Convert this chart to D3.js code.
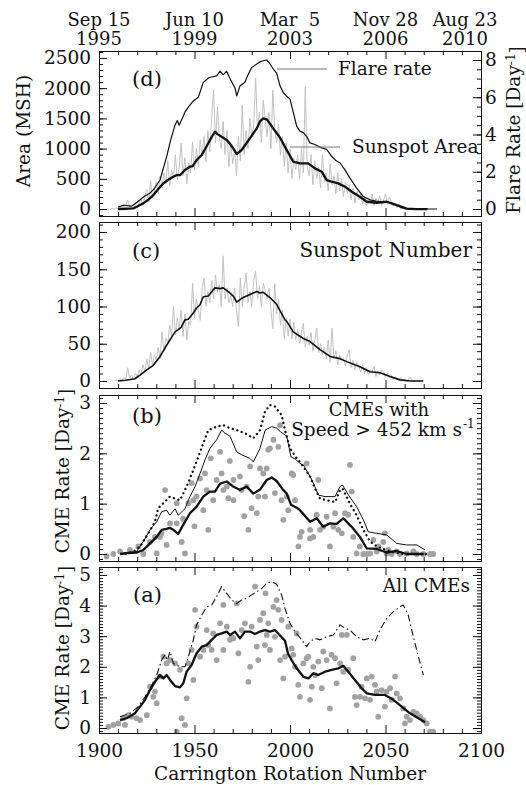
<!DOCTYPE html>
<html lang="en">
<head>
<meta charset="UTF-8">
<title>Cycle 23: sunspots, flares and CMEs</title>
<script src="https://cdn.jsdelivr.net/npm/d3@7/dist/d3.min.js"></script>
<style>
  body { margin: 0; background: #fff; }
  text { font-family: "DejaVu Serif", serif; font-size: 18.5px; fill: #111; }
</style>
</head>
<body>
<div id="chart"></div>
<script>
// ---------- data ----------
const crTicks = [1900, 1950, 2000, 2050, 2100];
const dateDay = ["Sep 15", "Jun 10", "Mar  5", "Nov 28", "Aug 23"];
const dateYear = ["1995", "1999", "2003", "2006", "2010"];

// (d) sunspot area, one value per rotation from CR 1905
const areaRawStart = 1905;
const areaRaw = [
  0, 0, 10, 0, 20, 0, 30, 10, 40, 60,
  150, 40, 30, 20, 60, 20, 90, 150, 60, 200,
  320, 120, 470, 180, 300, 450, 250, 550, 350, 600,
  420, 800, 380, 650, 520, 900, 480, 700, 1090, 550,
  850, 420, 760, 600, 1110, 650, 1000, 700, 1150, 880,
  1200, 780, 1300, 950, 1500, 1970, 1100, 1690, 1200, 1000,
  1450, 900, 1300, 700, 1100, 750, 1000, 550, 1200, 800,
  1720, 900, 1300, 1000, 1500, 1200, 1400, 2170, 1300, 1600,
  1100, 1800, 1500, 1200, 1600, 1000, 1970, 1300, 1100, 1400,
  900, 1200, 700, 1100, 600, 1000, 500, 850, 650, 900,
  500, 1000, 600, 2025, 700, 550, 900, 400, 800, 500,
  700, 350, 900, 450, 600, 300, 750, 400, 550, 250,
  600, 300, 500, 200, 450, 250, 400, 150, 350, 100,
  300, 150, 250, 80, 200, 50, 150, 100, 250, 60,
  180, 100, 220, 60, 150, 250, 80, 200, 120, 50,
  100, 20, 80, 0, 30, 0, 10, 0, 0, 0,
  0, 0, 0, 0
];
const areaSmooth = [
  [1910, 0], [1914, 5], [1918, 10], [1920.5, 50], [1923.2, 95], [1926, 160], [1928.4, 230],
  [1931, 330], [1933.7, 425], [1936, 480], [1938.9, 535], [1940.5, 560], [1942.4, 560],
  [1945, 645], [1947.6, 700], [1949, 710], [1951.1, 810], [1953.8, 895], [1955.5, 990],
  [1957.2, 1088], [1959, 1190], [1960.7, 1280], [1962, 1240], [1964.2, 1197], [1966.9, 1142],
  [1968.5, 1080], [1970.3, 1005], [1972.1, 910], [1974.7, 977], [1977, 1080], [1979, 1170],
  [1982.6, 1336], [1984.3, 1450], [1986, 1500], [1988, 1480], [1991.3, 1330], [1994.8, 1180],
  [1998.3, 975], [2001.7, 783], [2005.2, 756], [2009.5, 756], [2013.1, 673], [2016.6, 618],
  [2019.2, 480], [2021.8, 452], [2025.3, 425], [2028.8, 370], [2032.3, 286], [2036.6, 204],
  [2040.2, 121], [2045.4, 104], [2050.6, 121], [2055.9, 66], [2061.1, 8], [2066, 0], [2072, 0]
];
const flareRate = [
  [1910, 0.1], [1913, 0.2], [1917, 0.15], [1919, 0.3], [1921.5, 0.5], [1924, 0.7], [1926.7, 0.85],
  [1929, 1.1], [1932, 1.57], [1934, 2.3], [1935.4, 2.8], [1937.5, 3.7], [1939.8, 4.5], [1941, 4.75],
  [1942, 4.5], [1945, 5.2], [1947, 5.5], [1949.4, 5.8], [1952, 6.0], [1954.6, 6.8], [1957.7, 7.06],
  [1961.6, 7.15], [1963.4, 7.4], [1965, 7.2], [1966.8, 7.4], [1968.6, 7.0], [1971.2, 6.5],
  [1972.1, 6.07], [1973.8, 6.6], [1976.4, 6.8], [1978, 7.2], [1979.9, 7.6], [1982.6, 7.78],
  [1984.3, 7.9], [1986, 7.96], [1987.8, 8.0], [1989.5, 7.8], [1991.3, 7.5], [1993, 7.3],
  [1994.8, 6.6], [1996.5, 6.25], [1998.3, 6.05], [2000, 5.9], [2001.7, 5.2], [2003.5, 4.45],
  [2005.2, 4.18], [2007, 4.1], [2008.7, 3.9], [2010.5, 3.55], [2013, 3.46], [2016.6, 3.28],
  [2019.2, 3.2], [2021.8, 2.83], [2024, 2.6], [2026.2, 2.47], [2028.8, 2.1], [2031.4, 1.66],
  [2034.9, 1.12], [2038.4, 0.67], [2041.9, 0.49], [2045, 0.42], [2048.9, 0.38], [2052, 0.35],
  [2054, 0.3], [2057, 0.15], [2059.3, 0.04], [2062, 0], [2077, 0]
];

// (c) sunspot number, one value per rotation from CR 1908
const ssnRawStart = 1908;
const ssnRaw = [
  0, 2, 0, 3, 1, 5, 2, 18, 4, 8,
  2, 10, 6, 14, 8, 22, 12, 30, 15, 39,
  22, 35, 28, 45, 30, 66, 40, 58, 50, 75,
  60, 100, 62, 85, 70, 95, 60, 90, 55, 80,
  75, 131, 85, 110, 95, 81, 125, 138, 100, 120,
  105, 135, 110, 142, 120, 130, 100, 168, 110, 125,
  105, 115, 100, 125, 95, 73, 138, 100, 125, 145,
  105, 120, 100, 135, 147, 110, 128, 100, 131, 122,
  110, 125, 95, 70, 131, 90, 110, 75, 95, 57,
  85, 60, 83, 56, 79, 55, 70, 50, 65, 77,
  45, 60, 48, 65, 40, 55, 71, 38, 50, 35,
  45, 30, 55, 25, 71, 30, 40, 22, 35, 28,
  30, 20, 35, 42, 18, 28, 15, 25, 20, 12,
  22, 10, 18, 8, 15, 12, 20, 6, 14, 8,
  15, 12, 5, 10, 4, 8, 2, 6, 3, 1,
  5, 0, 3, 0, 2, 5, 0, 0, 0
];
const ssnSmooth = [
  [1910, 0], [1914, 1], [1918.8, 3], [1921.5, 8], [1925, 15], [1928.4, 21], [1932, 33],
  [1935.4, 48], [1939.8, 66], [1941.5, 69], [1943, 72], [1945, 82], [1946.7, 83], [1949, 90],
  [1951.1, 98], [1952.8, 102], [1954.6, 113], [1957.2, 114], [1960.7, 125], [1963.4, 124],
  [1965, 125], [1967.7, 120], [1970.3, 114], [1972.1, 106], [1974.7, 111], [1979, 116],
  [1982.6, 120], [1984.3, 118], [1986, 119], [1989.5, 112], [1993, 103], [1997.4, 82],
  [1998.3, 80], [2001.7, 66], [2007, 57], [2010.5, 53], [2015.7, 42], [2021, 33], [2026.2, 30],
  [2029.7, 26], [2036.6, 19], [2041.9, 12.5], [2047.1, 11], [2052.4, 6], [2057.6, 1.5],
  [2062.8, 0], [2069.8, 0]
];

// (b) CMEs with speed > 452 km/s
const fastRate = [
  [1904, -0.05], [1907.5, 0], [1911, 0.05], [1916.2, 0.08], [1920.6, 0.15], [1923.2, 0],
  [1926.7, 0.24], [1929.3, 0.34], [1930.2, 0.01], [1931.9, 0.34], [1932.8, 0.41], [1934.6, 1.27],
  [1935.4, 0.18], [1937.2, 0.61], [1940.7, 0.61], [1940.7, 1.01], [1943.3, 0.24], [1944, 0.7],
  [1945, 0.01], [1946.8, 1.01], [1948.5, 1.41], [1949.4, 1.07], [1950, 0.55], [1951.1, 1.14],
  [1952.9, 1.5], [1954.6, 0.87], [1955.5, 1.6], [1956.4, 1.27], [1957.2, 0.48], [1958.5, 1.9],
  [1959.8, 1.07], [1961.6, 1.47], [1963.4, 2.03], [1964.2, 1.6], [1965.1, 1.27], [1966.9, 1.34],
  [1967.7, 1.11], [1968.5, 1.85], [1970.4, 1.07], [1970.4, 1.47], [1973.8, 1.54], [1974.7, 1.27],
  [1976, 0.75], [1977.3, 1.34], [1978.2, 0.48], [1979.1, 1.74], [1979.9, 0.91], [1982.6, 0.81],
  [1983.4, 1.14], [1984.3, 1.7], [1986, 1.6], [1986.9, 1.14], [1987.8, 1.7], [1988.6, 2.07],
  [1989.5, 2.1], [1991.3, 2.27], [1992.1, 1.21], [1993.9, 2.13], [1994.8, 2.56], [1995.6, 1.07],
  [1996.5, 0.68], [1998.3, 1.14], [1999.1, 0.87], [2000.9, 1.6], [2001.7, 1.57], [2002.6, 1.07],
  [2004.4, 0.15], [2005.2, 0.34], [2006.1, 0.44], [2008.7, 1.8], [2010.5, 0.48], [2010.5, 0.31],
  [2012.2, 0.34], [2014, 0.78], [2014.8, 1.47], [2015.7, 0.48], [2017.4, 0.54], [2019.2, 0.74],
  [2020.9, 0.15], [2022.7, 0.54], [2023.6, 0.81], [2025.3, 0.48], [2027.1, 0.41], [2028.8, 0.81],
  [2030.5, 0.78], [2031.4, 1.77], [2032.3, 1.24], [2033.1, 0.34], [2034.9, 0.01], [2036.6, 0.15],
  [2038.4, 0], [2040.2, 0], [2041.9, 0.01], [2043.6, 0.28], [2045.4, 0.05], [2046.2, 0.15],
  [2048.8, 0.24], [2049.7, 0.41], [2050.6, 0.01], [2051.5, 0.08], [2053.2, 0], [2055.9, 0.05],
  [2057.6, 0], [2061.1, 0.01], [2064.6, 0.05], [2066.3, 0], [2069.8, 0], [2073.3, 0], [2075, 0]
];
const fastThick = [
  [1911, 0], [1915, 0.02], [1919.7, 0.03], [1923.2, 0.08], [1926.7, 0.21], [1930.2, 0.34],
  [1932.8, 0.48], [1935.4, 0.5], [1937, 0.52], [1938.9, 0.48], [1941.5, 0.4], [1944.1, 0.58],
  [1947.6, 0.81], [1951.1, 0.94], [1954.6, 1.14], [1958.1, 1.24], [1960.7, 1.24], [1963.4, 1.4],
  [1966.9, 1.44], [1970.3, 1.34], [1973.8, 1.27], [1977.3, 1.34], [1980.8, 1.2], [1984.3, 1.28],
  [1987.8, 1.47], [1990.4, 1.52], [1993, 1.45], [1996.5, 1.27], [1998.3, 1.2], [2000.5, 0.98],
  [2003.5, 0.92], [2005.2, 0.87], [2008, 0.75], [2010.5, 0.64], [2014, 0.71], [2017.4, 0.54],
  [2020.9, 0.61], [2024.4, 0.6], [2027.9, 0.71], [2032.3, 0.54], [2036.6, 0.34], [2040.2, 0.11],
  [2045.4, 0.1], [2050.6, 0.03], [2055.9, 0.06], [2061.1, 0], [2070, 0]
];
const fastThin = [
  [1911, 0], [1919.7, 0.05], [1923.2, 0.25], [1926.7, 0.48], [1930.2, 0.64], [1932.8, 0.84],
  [1935.4, 0.87], [1937.1, 0.77], [1939.8, 0.9], [1941.5, 0.77], [1945, 0.9], [1947.6, 1.14],
  [1950.3, 1.34], [1952.9, 1.6], [1955.5, 1.87], [1958.1, 2.1], [1961.6, 2.27], [1964.2, 2.46],
  [1966, 2.4], [1968.6, 2.34], [1972.1, 2.03], [1974.7, 1.97], [1979, 1.9], [1980.8, 1.83],
  [1984.3, 2.1], [1987, 2.46], [1990.4, 2.53], [1993, 2.5], [1995, 2.43], [1998.3, 2.34],
  [2000.5, 1.93], [2003, 1.88], [2005.2, 1.8], [2007, 1.77], [2010.5, 1.54], [2013, 1.34],
  [2014.9, 1.17], [2018.3, 1.14], [2023.6, 1.14], [2026.2, 1.34], [2027.5, 1.37], [2030.6, 1.17],
  [2034.9, 0.94], [2038.4, 0.68], [2041, 0.44], [2045.4, 0.41], [2050.6, 0.38], [2055.9, 0.21],
  [2061.1, 0.18], [2066.4, 0.18], [2070.7, 0.08]
];
const fastDotted = [
  [1914, 0], [1918, 0.05], [1921.5, 0.15], [1925.8, 0.41], [1929.3, 0.64], [1931, 0.91],
  [1933.7, 1.01], [1937.1, 1.14], [1939.8, 1.1], [1942.4, 1.07], [1945.9, 1.34], [1949.4, 1.67],
  [1952, 1.93], [1954.6, 2.2], [1957.2, 2.46], [1961.6, 2.53], [1965, 2.56], [1968.6, 2.5],
  [1972.1, 2.46], [1976.4, 2.4], [1980.8, 2.3], [1984.3, 2.46], [1986.9, 2.83], [1989.5, 2.96],
  [1992.1, 2.93], [1995.6, 2.76], [1997.4, 2.46], [2000, 2.1], [2003.5, 1.9], [2005.2, 1.83],
  [2010.5, 1.54], [2013.5, 1.27], [2015.7, 1.1], [2019.2, 1.07], [2023.6, 1.03], [2026.2, 1.27],
  [2027.5, 1.3], [2031.4, 1.0], [2034.9, 0.77], [2038.4, 0.48], [2041.9, 0.25], [2045.4, 0.15],
  [2052.4, 0.05], [2059.3, 0], [2073, 0]
];

// (a) all CMEs
const allRate = [
  [1904.9, 0.04], [1907.5, 0.1], [1910.1, 0.15], [1912.7, 0.32], [1913.6, 0.1], [1915.3, 0.42],
  [1917.1, 0.37], [1919.7, 0.32], [1921.5, 0.26], [1925, 0.42], [1926.7, 1.35], [1928.4, 1.02],
  [1929.3, 1.19], [1930.2, 0.81], [1931.9, 1.68], [1933.7, 2.33], [1935.4, 2.11], [1937.2, 2.22],
  [1939.8, 2.11], [1940.7, -0.12], [1942.4, 1.9], [1943.3, 0.32], [1945, 0.1], [1945.9, 0.97],
  [1946.8, 2.11], [1948.5, 2.55], [1949.4, 1.57], [1950.3, 3.86], [1951.1, 3.31], [1952.9, 2.33],
  [1954.6, 2.55], [1956.4, 3.2], [1957.2, 2.71], [1959, 2.55], [1959.8, 3.09], [1961.6, 2.22],
  [1963.4, 3.42], [1965.1, 4.02], [1965.1, 2.55], [1966.9, 3.31], [1968.6, 2.88], [1969.5, 2.98],
  [1970.4, 2.93], [1972.1, 4.07], [1973, 2.44], [1974.7, 3.2], [1976.4, 3.42], [1978.2, 1.51],
  [1979.1, 2.0], [1979.9, 3.31], [1981.7, 4.62], [1982.6, 2.66], [1983.4, 2.22], [1984.3, 3.53],
  [1986, 3.75], [1986.9, 2.71], [1987.2, 4.4], [1987.8, 3.04], [1988.6, 3.42], [1989.5, 2.55],
  [1991.3, 3.96], [1992.1, 2.98], [1993, 4.18], [1993.9, 3.86], [1994.8, 2.22], [1995.6, 3.53],
  [1996.5, 1.62], [1997.4, 2.33], [1999.1, 3.31], [2000.9, 2.6], [2001.7, 2.39], [2002.6, 2.0],
  [2003.5, 3.09], [2004.3, 1.41], [2005.2, 1.02], [2007, 2.11], [2008.7, 2.28], [2009.6, 2.33],
  [2010.5, 0.92], [2011.4, 1.35], [2012.2, 2.0], [2013.1, 1.73], [2014.8, 2.17], [2016.6, 1.3],
  [2017.4, 2.5], [2019.2, 2.22], [2020.9, 0.64], [2021.8, 2.39], [2023.6, 2.28], [2024.4, 1.46],
  [2026.2, 2.11], [2027.1, 3.04], [2027.9, 1.84], [2029.7, 3.04], [2030.5, 1.9], [2033.1, 2.28],
  [2034, 1.02], [2034.9, 0.75], [2036.6, 1.02], [2037.5, 1.35], [2039.3, 0.97], [2040.2, 1.62],
  [2041.9, 0.92], [2042.8, 1.68], [2044.5, 1.41], [2045.4, 1.19], [2046.2, 0.37], [2048, 1.24],
  [2049.7, 0.7], [2050.6, 1.19], [2052.4, 1.3], [2053.2, 0.92], [2055, 1.68], [2055.9, 1.13],
  [2057.6, 0.97], [2059.3, 0.64], [2060.2, 0.15], [2061.1, 0.37], [2062.8, 0.26], [2064.6, 0.53],
  [2066.3, 0.48], [2068.1, 0.37], [2069.8, 0.26], [2071.6, 0.15], [2073.3, -0.12], [2075, -0.12]
];
const allThick = [
  [1911, 0.26], [1914.5, 0.32], [1918.8, 0.48], [1921.5, 0.7], [1924.1, 0.92], [1926.7, 1.24],
  [1929.3, 1.51], [1931.9, 1.73], [1933.7, 1.62], [1935.4, 1.73], [1937.2, 1.57], [1939.8, 1.37],
  [1942.4, 1.33], [1944.1, 1.46], [1945.9, 1.84], [1948.5, 2.06], [1951.1, 2.44], [1953.8, 2.66],
  [1956.4, 2.71], [1959, 2.88], [1961.6, 3.04], [1964.2, 3.09], [1966.9, 3.15], [1968.6, 3.04],
  [1971.2, 3.15], [1973.8, 2.93], [1976.4, 3.15], [1979.1, 3.15], [1981.7, 3.07], [1984.3, 3.15],
  [1986.9, 3.2], [1989.5, 3.15], [1992.1, 3.2], [1994.8, 3.02], [1997.4, 2.85], [1999, 2.42],
  [2001, 2.2], [2003.5, 1.95], [2006.9, 1.68], [2009.6, 1.62], [2012.2, 1.79], [2014.8, 1.73],
  [2018.3, 1.84], [2021.8, 1.9], [2025.3, 1.95], [2027.9, 2.03], [2030.5, 1.84], [2034, 1.57],
  [2037.5, 1.3], [2040.2, 1.13], [2044.5, 1.08], [2049.7, 1.08], [2054.1, 0.92], [2058.5, 0.7],
  [2062.8, 0.48], [2067.2, 0.32], [2070.7, 0.19]
];
const allDashDot = [
  [1911, 0.37], [1916.2, 0.48], [1920.6, 0.7], [1924.1, 1.02], [1927.6, 1.4], [1930.2, 1.73],
  [1932.8, 2.22], [1934.6, 2.39], [1935.8, 2.22], [1937.2, 2.5], [1938.9, 2.11], [1942.4, 2.0],
  [1945, 2.0], [1946.8, 2.33], [1949.4, 2.88], [1951.1, 3.37], [1953.8, 3.69], [1956.4, 3.96],
  [1959, 4.02], [1961.6, 4.29], [1964.2, 4.62], [1966.9, 4.4], [1969.5, 4.18], [1972.1, 4.07],
  [1974.7, 4.18], [1977.3, 4.24], [1979.9, 4.35], [1982.6, 4.45], [1985.2, 4.56], [1987.8, 4.73],
  [1990.4, 4.78], [1993, 4.7], [1995.6, 4.35], [1997.4, 3.9], [2000, 3.42], [2002.6, 3.15],
  [2006.1, 2.88], [2008.7, 2.66], [2010.5, 2.82], [2013.1, 2.93], [2015.7, 2.88], [2019.2, 2.98],
  [2022.7, 3.04], [2026.2, 3.37], [2028.8, 3.26], [2031.4, 3.2], [2034.9, 2.98], [2038.4, 2.88],
  [2041.9, 2.93], [2044.5, 2.82], [2047.1, 3.2], [2050.6, 3.58], [2054.1, 3.8], [2057.6, 3.96],
  [2059.3, 4.02], [2061.9, 3.69], [2064.6, 2.98], [2067.2, 2.33], [2069.8, 1.73]
];

// ---------- layout ----------
const W = 526, H = 785;
const left = 99, right = 481;

const svg = d3.select("#chart").append("svg")
    .attr("width", W)
    .attr("height", H);

const x = d3.scaleLinear().domain([1900, 2100]).range([left, right]);
const intFmt = d3.format("d");

// steps -> tick values inside a domain
function steps(domain, step) {
    const lo = Math.ceil(domain[0] / step - 1e-9), hi = Math.floor(domain[1] / step + 1e-9);
    return d3.range(lo, hi + 1).map(i => +(i * step).toFixed(6));
}

function tidy(g) {
    g.select(".domain").remove();
    g.selectAll("line").attr("stroke", "#111");
}

function panel(top, bottom, domain, major, minor, opts) {
    const y = d3.scaleLinear().domain(domain).range([bottom, top]);
    const g = svg.append("g");
    const id = "clip" + top;
    svg.append("clipPath").attr("id", id)
        .append("rect").attr("x", left).attr("y", top)
        .attr("width", right - left).attr("height", bottom - top);
    const plot = g.append("g").attr("clip-path", `url(#${id})`);

    const axes = g.append("g");
    // y axes, ticks pointing inward
    axes.append("g").attr("transform", `translate(${left},0)`)
        .call(d3.axisLeft(y).tickValues(steps(domain, minor)).tickSize(-4).tickFormat(""))
        .call(tidy);
    axes.append("g").attr("transform", `translate(${left},0)`)
        .call(d3.axisLeft(y).tickValues(steps(domain, major)).tickSize(-8).tickPadding(8).tickFormat(intFmt))
        .call(tidy);
    if (!opts.rightAxis) {
        axes.append("g").attr("transform", `translate(${right},0)`)
            .call(d3.axisRight(y).tickValues(steps(domain, minor)).tickSize(-4).tickFormat(""))
            .call(tidy);
        axes.append("g").attr("transform", `translate(${right},0)`)
            .call(d3.axisRight(y).tickValues(steps(domain, major)).tickSize(-8).tickFormat(""))
            .call(tidy);
    }
    // x ticks on top and bottom
    const xMinor = d3.range(1900, 2101, 10).filter(d => d % 50 !== 0);
    [[top, d3.axisTop], [bottom, d3.axisBottom]].forEach(([yy, ax]) => {
        axes.append("g").attr("transform", `translate(0,${yy})`)
            .call(ax(x).tickValues(xMinor).tickSize(-4).tickFormat(""))
            .call(tidy);
    });
    axes.append("g").attr("transform", `translate(0,${top})`)
        .call(d3.axisTop(x).tickValues(crTicks).tickSize(-8).tickFormat(""))
        .call(tidy);
    axes.append("g").attr("transform", `translate(0,${bottom})`)
        .call(d3.axisBottom(x).tickValues(crTicks).tickSize(-8).tickPadding(11)
            .tickFormat(opts.xLabels ? intFmt : ""))
        .call(tidy);

    g.append("rect")
        .attr("x", left + 0.5).attr("y", top + 0.5)
        .attr("width", right - left).attr("height", bottom - top)
        .attr("fill", "none").attr("stroke", "#111").attr("stroke-width", 1);

    return { y, plot, g };
}

function curve(target, data, y, width, color, dash) {
    const line = d3.line().x(d => x(d[0])).y(d => y(d[1]));
    const p = target.append("path").datum(data)
        .attr("d", line)
        .attr("fill", "none")
        .attr("stroke", color)
        .attr("stroke-width", width)
        .attr("stroke-linejoin", "round");
    if (dash) p.attr("stroke-dasharray", dash);
    return p;
}

function rawPairs(start, values) {
    return values.map((v, i) => [start + i, v]);
}

function dots(target, data, y) {
    target.selectAll(null).data(data).join("circle")
        .attr("cx", d => x(d[0]))
        .attr("cy", d => y(d[1]))
        .attr("r", 2.9)
        .attr("fill", "#a2a2a2");
}

function note(text, xx, yy, anchor, size) {
    return svg.append("text")
        .attr("x", xx).attr("y", yy)
        .attr("text-anchor", anchor || "start")
        .style("font-size", (size || 18.5) + "px")
        .style("white-space", "pre")
        .text(text);
}

function vLabel(xx, yy, main, sup, tail) {
    const t = svg.append("text")
        .attr("transform", `translate(${xx},${yy}) rotate(-90)`)
        .attr("text-anchor", "middle")
        .attr("dy", "0.35em");
    t.append("tspan").text(main);
    if (sup) {
        t.append("tspan").attr("dy", "-0.45em").style("font-size", "12px").text(sup);
        t.append("tspan").attr("dy", "0.45em").text(tail);
    }
}

// ---------- (d) sunspot area & flare rate ----------
const pd = panel(51, 216, [-115, 2615], 500, 100, { rightAxis: true });
const yFlare = d3.scaleLinear().domain([-0.376, 8.483]).range([216, 51]);
curve(pd.plot, rawPairs(areaRawStart, areaRaw), pd.y, 1, "#c2c2c2");
curve(pd.plot, flareRate, yFlare, 1.2, "#111");
curve(pd.plot, areaSmooth, pd.y, 2.3, "#111");
pd.g.append("g").attr("transform", `translate(${right},0)`)
    .call(d3.axisRight(yFlare).tickValues(steps([-0.376, 8.483], 0.5)).tickSize(-4).tickFormat(""))
    .call(tidy);
pd.g.append("g").attr("transform", `translate(${right},0)`)
    .call(d3.axisRight(yFlare).tickValues([0, 2, 4, 6, 8]).tickSize(-8).tickPadding(4).tickFormat(intFmt))
    .call(tidy);

// legend
svg.append("line").attr("x1", 277).attr("x2", 327).attr("y1", 69).attr("y2", 69)
    .attr("stroke", "#777").attr("stroke-width", 1);
note("Flare rate", 338, 75);
svg.append("line").attr("x1", 290).attr("x2", 340).attr("y1", 147).attr("y2", 147)
    .attr("stroke", "#777").attr("stroke-width", 1);
note("Sunspot Area", 352, 153);
note("(d)", 132, 86, "start", 21);

// top date axis
crTicks.forEach((cr, i) => {
    const cx = x(cr) + (i === crTicks.length - 1 ? -16 : 0);
    note(dateDay[i], cx, 26, "middle", 18);
    note(dateYear[i], cx, 45, "middle", 18);
});

// ---------- (c) sunspot number ----------
const pc = panel(222, 388, [-9.4, 213.4], 50, 10, {});
curve(pc.plot, rawPairs(ssnRawStart, ssnRaw), pc.y, 1, "#c2c2c2");
curve(pc.plot, ssnSmooth, pc.y, 1.6, "#111");
note("(c)", 132, 258, "start", 21);
note("Sunspot Number", 472, 257, "end", 20);

// ---------- (b) fast CMEs ----------
const pb = panel(395, 561, [-0.139, 3.159], 1, 0.1, {});
dots(pb.plot, fastRate, pb.y);
curve(pb.plot, fastDotted, pb.y, 2.3, "#111", "0.1,4.6").attr("stroke-linecap", "round");
curve(pb.plot, fastThin, pb.y, 1, "#111");
curve(pb.plot, fastThick, pb.y, 2.3, "#111");
note("(b)", 132, 423, "start", 21);
note("CMEs with", 379, 416, "middle", 18);
note("Speed > 452 km s", 462, 436, "end");
svg.append("text").attr("x", 463).attr("y", 428).style("font-size", "12px").text("-1");

// ---------- (a) all CMEs ----------
const pa = panel(567, 733, [-0.163, 5.26], 1, 0.1, { xLabels: true });
dots(pa.plot, allRate, pa.y);
curve(pa.plot, allDashDot, pa.y, 1.1, "#111", "7,3,1.5,3");
curve(pa.plot, allThick, pa.y, 2.3, "#111");
note("(a)", 133, 602, "start", 21);
note("All CMEs", 470, 592, "end");

// ---------- axis titles ----------
vLabel(24, 131, "Area (MSH)");
vLabel(514, 130, "Flare Rate [Day", "-1", "]");
vLabel(63, 471, "CME Rate [Day", "-1", "]");
vLabel(63, 648, "CME Rate [Day", "-1", "]");
note("Carrington Rotation Number", 290, 780, "middle");
</script>
</body>
</html>
